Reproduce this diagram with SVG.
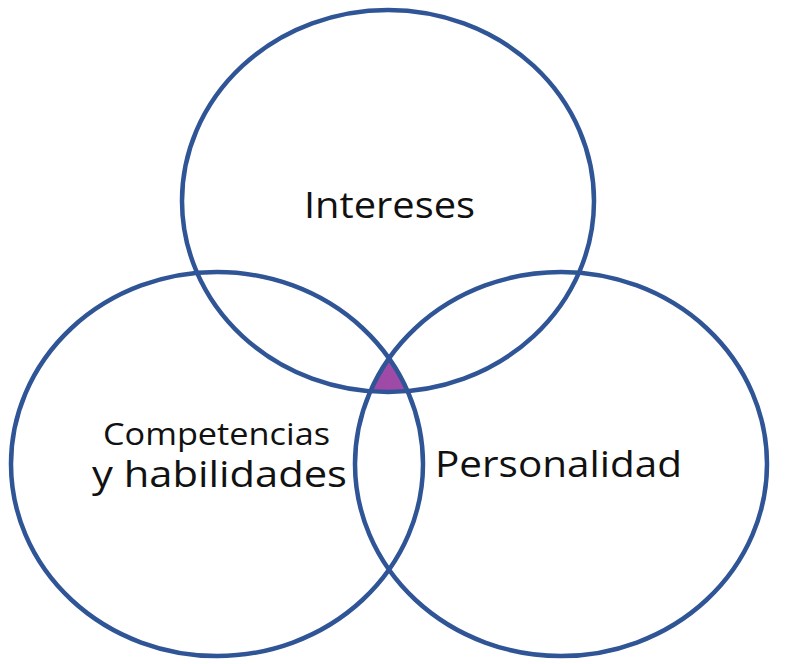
<svg xmlns="http://www.w3.org/2000/svg" width="795" height="664" viewBox="0 0 795 664">
<style>
.ring{fill:none;stroke:#2f5597;stroke-width:4.5}
.lbl{font-family:"Open Sans","Noto Sans","Liberation Sans",sans-serif;fill:#111}
</style>
<defs>
<clipPath id="cL"><ellipse cx="217" cy="464" rx="206" ry="192"/></clipPath>
<clipPath id="cR"><ellipse cx="561" cy="464" rx="206" ry="192"/></clipPath>
</defs>
<rect width="795" height="664" fill="#fff"/>
<g id="center" clip-path="url(#cL)"><g clip-path="url(#cR)"><ellipse cx="388" cy="201" rx="206" ry="191" fill="#9e4aa6"/></g></g>
<g id="intereses">
<ellipse class="ring" cx="388" cy="201" rx="206" ry="191"/>
<text class="lbl" x="304" y="218" font-size="37" textLength="171" lengthAdjust="spacingAndGlyphs">Intereses</text>
</g>
<g id="competencias">
<ellipse class="ring" cx="217" cy="464" rx="206" ry="192"/>
<text class="lbl" x="103" y="445" font-size="31" textLength="227" lengthAdjust="spacingAndGlyphs">Competencias</text>
<text class="lbl" x="92" y="487" font-size="37" textLength="255" lengthAdjust="spacingAndGlyphs">y habilidades</text>
</g>
<g id="personalidad">
<ellipse class="ring" cx="561" cy="464" rx="206" ry="192"/>
<text class="lbl" x="435" y="477" font-size="36" textLength="247" lengthAdjust="spacingAndGlyphs">Personalidad</text>
</g>
</svg>
